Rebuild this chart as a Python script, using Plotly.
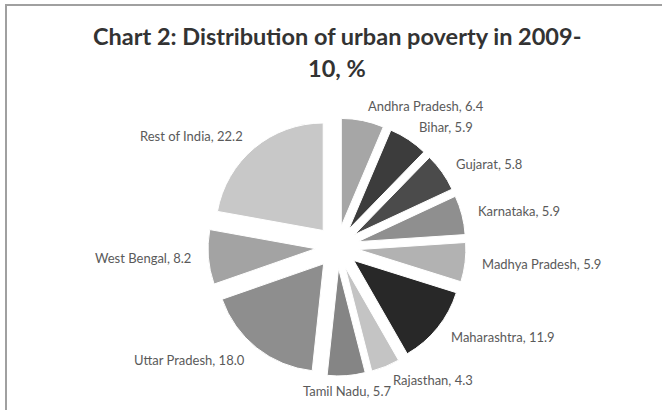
import math
import plotly.graph_objects as go

states = ["Andhra Pradesh", "Bihar", "Gujarat", "Karnataka", "Madhya Pradesh",
          "Maharashtra", "Rajasthan", "Tamil Nadu", "Uttar Pradesh", "West Bengal",
          "Rest of India"]
shares = [6.4, 5.9, 5.8, 5.9, 5.9, 11.9, 4.3, 5.7, 18.0, 8.2, 22.2]
slice_colors = ["#a6a6a6", "#3c3c3c", "#4b4b4b", "#8f8f8f", "#b2b2b2",
                "#282828", "#c4c4c4", "#858585", "#8e8e8e", "#a3a3a3", "#c8c8c8"]
title_lines = ["Chart 2: Distribution of urban poverty in 2009-", "10, %"]

W, H = 662, 410
CX, CY = 337.0, 247.0      # pie centre, pixels from top-left
R_OUT = 129.0              # outer extent incl. pull
PULL = 0.2
R_LABEL = 144.0

fig = go.Figure(go.Pie(
    labels=states,
    values=shares,
    sort=False,
    direction="clockwise",
    rotation=0,
    pull=PULL,
    marker=dict(colors=slice_colors, line=dict(color="white", width=1)),
    textinfo="none",
    hoverinfo="label+value",
    showlegend=False,
    domain=dict(x=[(CX - R_OUT) / W, (CX + R_OUT) / W],
                y=[1 - (CY + R_OUT) / H, 1 - (CY - R_OUT) / H]),
))

# data labels placed around the pie at each slice's mid angle
total = sum(shares)
annotations = []
cum = 0.0
for name, v in zip(states, shares):
    mid = (cum + v / 2) / total * 2 * math.pi
    cum += v
    s, c = math.sin(mid), math.cos(mid)
    px = CX + R_LABEL * s
    py = CY - R_LABEL * c
    if s > 0.1:
        xa = "left"
    elif s < -0.1:
        xa = "right"
    else:
        xa = "center"
    annotations.append(dict(
        x=px / W, y=1 - py / H, xref="paper", yref="paper",
        text=f"{name}, {v:.1f}", showarrow=False,
        xanchor=xa, yanchor="middle",
        font=dict(family="Lato", size=13, color="#5a5a5a"),
    ))

for i, line in enumerate(title_lines):
    annotations.append(dict(
        x=337.5 / W, y=1 - (36 + 32 * i) / H, xref="paper", yref="paper",
        text=f"<b>{line}</b>",
        showarrow=False, xanchor="center", yanchor="middle",
        font=dict(family="Lato", size=23.5, color="#333333"),
    ))

fig.update_layout(
    width=W, height=H,
    margin=dict(l=0, r=0, t=0, b=0),
    paper_bgcolor="white",
    plot_bgcolor="white",
    annotations=annotations,
    shapes=[dict(type="rect", xref="paper", yref="paper",
                 x0=6 / W, x1=1.05, y0=-0.05, y1=1 - 5 / H,
                 line=dict(color="#a0a0a0", width=2))],
)

fig.write_html("out.html", config={"displayModeBar": False},
               post_script="document.body.style.margin='0';")
